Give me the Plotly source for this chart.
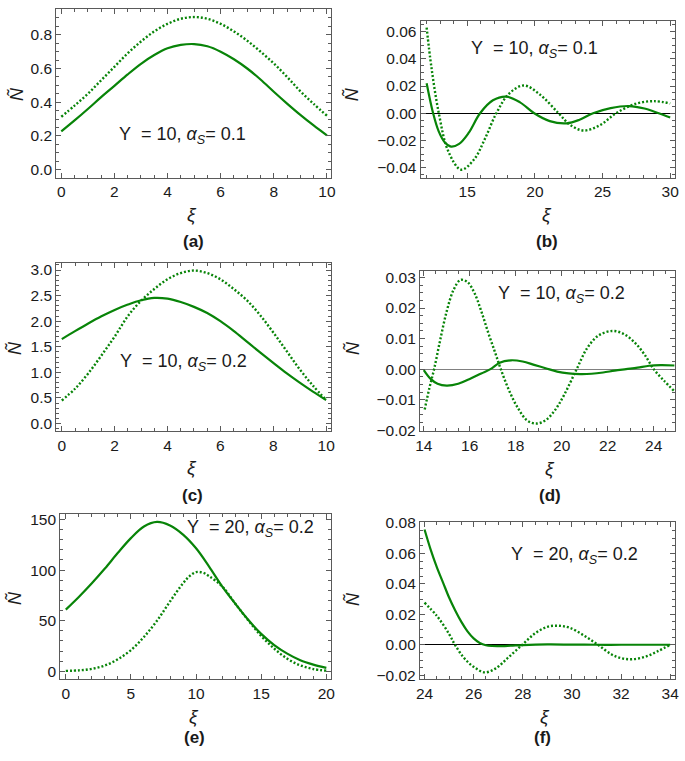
import plotly.graph_objects as go

# ---------------- data ----------------
# (a) Y=10, alpha_S=0.1
a_x = [0, 0.5, 1, 1.5, 2, 2.5, 3, 3.5, 4, 4.5, 5, 5.5, 6, 6.5, 7, 7.5, 8, 8.5, 9, 9.5, 10]
a_solid = [0.227, 0.292, 0.36, 0.43, 0.497, 0.565, 0.628, 0.68, 0.72, 0.74, 0.745, 0.732, 0.70, 0.655, 0.60, 0.535, 0.462, 0.392, 0.325, 0.262, 0.203]
a_dot = [0.314, 0.38, 0.45, 0.53, 0.61, 0.69, 0.76, 0.82, 0.865, 0.895, 0.905, 0.895, 0.865, 0.82, 0.765, 0.70, 0.63, 0.55, 0.465, 0.39, 0.32]

# (b) Y=10, alpha_S=0.1, tail
b_solid_x = [12.0, 12.48, 12.9, 13.35, 13.8, 14.4, 15.1, 15.95, 16.9, 17.9, 18.9, 19.95, 21.1, 22.35, 23.3, 24.3, 25.6, 26.95, 28.1, 29.15, 30.0]
b_solid = [0.0221, 0.0, -0.0135, -0.0215, -0.0245, -0.0225, -0.0145, 0.0, 0.0095, 0.0122, 0.008, 0.0, -0.0058, -0.0074, -0.0048, 0.0, 0.0038, 0.0053, 0.0035, 0.0, -0.0031]
b_dot_x = [12.0, 12.35, 12.9, 13.6, 14.55, 15.5, 16.3, 17.15, 18.1, 19.2, 20.4, 21.75, 22.6, 23.6, 24.8, 26.0, 27.4, 28.8, 30.0]
b_dot = [0.063, 0.034, 0.0, -0.028, -0.0415, -0.034, -0.019, 0.0, 0.0145, 0.0204, 0.0135, 0.0, -0.0085, -0.0127, -0.0088, 0.0, 0.0068, 0.0089, 0.0072]

# (c) Y=10, alpha_S=0.2
c_x = [0, 0.5, 1, 1.5, 2, 2.5, 3, 3.5, 4, 4.5, 5, 5.5, 6, 6.5, 7, 7.5, 8, 8.5, 9, 9.5, 10]
c_solid = [1.65, 1.805, 1.955, 2.095, 2.22, 2.325, 2.41, 2.455, 2.44, 2.375, 2.28, 2.16, 2.0, 1.81, 1.6, 1.39, 1.185, 0.985, 0.8, 0.625, 0.46]
c_dot = [0.45, 0.68, 0.98, 1.33, 1.7, 2.1, 2.4, 2.63, 2.82, 2.94, 2.99, 2.94, 2.82, 2.63, 2.41, 2.12, 1.78, 1.42, 1.06, 0.74, 0.46]

# (d) Y=10, alpha_S=0.2, tail
d_solid_x = [14.0, 14.3, 14.6, 15.0, 15.5, 16.0, 16.5, 16.9, 17.3, 17.8, 18.3, 18.8, 19.3, 19.8, 20.3, 20.8, 21.3, 21.8, 22.3, 22.8, 23.3, 23.8, 24.3, 24.9]
d_solid = [-0.0003, -0.0032, -0.0048, -0.0054, -0.0048, -0.0032, -0.0014, 0.0, 0.0021, 0.0029, 0.0025, 0.0014, 0.0003, -0.0008, -0.0014, -0.0016, -0.0015, -0.0011, -0.0005, 0.0, 0.0005, 0.0011, 0.0013, 0.0012]
d_dot_x = [14.04, 14.25, 14.45, 14.7, 15.0, 15.3, 15.6, 15.9, 16.2, 16.5, 16.8, 17.1, 17.35, 17.7, 18.1, 18.5, 18.9, 19.3, 19.7, 20.1, 20.65, 21.1, 21.6, 22.2, 22.7, 23.2, 23.6, 24.0, 24.45, 24.9]
d_dot = [-0.0132, -0.006, 0.0, 0.009, 0.019, 0.026, 0.0292, 0.0285, 0.025, 0.019, 0.012, 0.0055, 0.0, -0.0068, -0.0128, -0.0168, -0.0178, -0.0167, -0.0135, -0.0085, 0.0, 0.0068, 0.011, 0.0125, 0.0115, 0.0085, 0.0048, 0.0, -0.0038, -0.0072]

# (e) Y=20, alpha_S=0.2
e_solid_x = list(range(0, 21))
e_solid = [61, 73.5, 87, 101.5, 117, 131.5, 143, 147.5, 144, 135, 121.5, 103.5, 84, 67, 51, 37, 26, 17.5, 11, 6.7, 3.5]
e_dot_x = [0, 1, 2, 3, 4, 5, 6, 7, 8, 9, 9.5, 10, 10.5, 11, 12, 13, 14, 15, 16, 17, 18, 19, 20]
e_dot = [0.5, 1.0, 2.5, 5.8, 12, 21, 34, 50, 69, 87, 94, 98, 97.5, 94, 84, 67, 50.5, 35, 22.5, 12.5, 6, 2.3, 0.7]

# (f) Y=20, alpha_S=0.2, tail
f_solid_x = [24.0, 24.25, 24.5, 24.75, 25.0, 25.25, 25.5, 25.75, 26.0, 26.25, 26.5, 26.75, 27.0, 27.5, 28.0, 29.0, 30.0, 31.0, 32.0, 33.0, 34.0]
f_solid = [0.0757, 0.0625, 0.051, 0.041, 0.031, 0.0225, 0.015, 0.0088, 0.0042, 0.0012, -0.0003, -0.0008, -0.0009, -0.0006, -0.0002, 0.0002, 0.0001, 0.0, 0.0, 0.0, 0.0]
f_dot_x = [24.0, 24.5, 25.0, 25.24, 25.6, 26.0, 26.45, 26.9, 27.4, 27.98, 28.5, 29.0, 29.45, 29.9, 30.5, 31.06, 31.6, 32.0, 32.45, 33.0, 33.5, 34.0]
f_dot = [0.0276, 0.019, 0.0071, 0.0, -0.0085, -0.0145, -0.0181, -0.0155, -0.0085, 0.0, 0.0075, 0.0118, 0.0125, 0.0112, 0.006, 0.0, -0.0062, -0.0088, -0.0095, -0.0078, -0.0042, 0.0]

panel_labels = ["(a)", "(b)", "(c)", "(d)", "(e)", "(f)"]
panel_texts = ["Y\u00a0\u00a0= 10, <i>α</i><sub><i>S</i></sub>= 0.1",
               "Y\u00a0\u00a0= 10, <i>α</i><sub><i>S</i></sub>= 0.1",
               "Y\u00a0\u00a0= 10, <i>α</i><sub><i>S</i></sub>= 0.2",
               "Y\u00a0\u00a0= 10, <i>α</i><sub><i>S</i></sub>= 0.2",
               "Y\u00a0\u00a0= 20, <i>α</i><sub><i>S</i></sub>= 0.2",
               "Y\u00a0\u00a0= 20, <i>α</i><sub><i>S</i></sub>= 0.2"]

# ---------------- layout ----------------
W, H = 685, 761
GREEN = "#088408"
FRAME = "#5a5a5a"

# pixel frames: left, right, top, bottom
frames = [(52, 331, 1, 173), (421.7, 680, 13, 173),
          (52, 331, 260, 431.7), (421, 680, 268, 431.7),
          (56, 331, 516, 685), (421, 680, 524.5, 685)]
xranges = [[-0.19, 10.16], [11.55, 30.36], [-0.21, 10.19], [13.83, 24.93], [-0.43, 20.37], [23.81, 34.2]]
yranges = [[-0.047, 0.953], [-0.0473, 0.068], [-0.15, 3.14], [-0.0203, 0.0322], [-8, 155.5], [-0.0228, 0.0805]]
xdt = [2, 5, 2, 2, 5, 2]
xminor = [0.5, 1, 0.5, 0.5, 1, 0.5]
ydt = [0.2, 0.02, 0.5, 0.01, 50, 0.02]
yminor = [0.05, 0.005, 0.1, 0.0025, 10, 0.005]
yfmt = [".1f", ".2f", ".1f", ".2f", "d", ".2f"]
zerolines = [False, True, False, True, False, True]
zerocolors = ["black", "black", "black", "#808080", "black", "black"]

series = [(a_x, a_solid, a_x, a_dot), (b_solid_x, b_solid, b_dot_x, b_dot),
          (c_x, c_solid, c_x, c_dot), (d_solid_x, d_solid, d_dot_x, d_dot),
          (e_solid_x, e_solid, e_dot_x, e_dot), (f_solid_x, f_solid, f_dot_x, f_dot)]

# annotation pixel positions
text_pos = [(180, 130), (537, 42), (181, 362), (565, 292), (249, 531), (578, 558)]
xi_pos = [(190, 211), (550, 211), (190, 469), (553, 470), (192, 723), (548, 723)]
lab_pos = [(191, 238), (550, 238), (190, 497), (553, 497), (192, 744), (545, 744)]
ylab_pos = [(11, 88), (351, 88), (9, 347), (352, 347), (9, 602), (352, 603)]

fig = go.Figure()
layout = dict(width=W, height=H, margin=dict(l=0, r=0, t=0, b=0),
              paper_bgcolor="white", plot_bgcolor="white", showlegend=False,
              font=dict(family="Liberation Sans, Arial, sans-serif", color="#1a1a1a", size=15))
annotations = []

for i in range(6):
    n = "" if i == 0 else str(i + 1)
    xs, ys, xd, yd = series[i]
    fig.add_trace(go.Scatter(x=xs, y=ys, mode="lines", xaxis="x" + n, yaxis="y" + n,
                             line=dict(color=GREEN, width=2.2, shape="spline", smoothing=1.0)))
    fig.add_trace(go.Scatter(x=xd, y=yd, mode="lines", xaxis="x" + n, yaxis="y" + n,
                             line=dict(color=GREEN, width=2.4, dash="2px,2px", shape="spline", smoothing=1.0)))
    l, r, t, b = frames[i]
    common = dict(showline=True, linecolor=FRAME, linewidth=1, mirror="allticks",
                  ticks="inside", ticklen=5, tickcolor=FRAME, tickwidth=1,
                  showgrid=False, ticklabeloverflow="allow",
                  tickfont=dict(size=15.5, color="#1a1a1a"))
    layout["xaxis" + n] = dict(common, domain=[l / W, r / W], range=xranges[i], anchor="y" + n,
                               dtick=xdt[i], tick0=0, zeroline=False,
                               minor=dict(dtick=xminor[i], ticks="inside", ticklen=3, tickcolor=FRAME))
    layout["yaxis" + n] = dict(common, domain=[1 - b / H, 1 - t / H], range=yranges[i], anchor="x" + n,
                               dtick=ydt[i], tick0=0, tickformat=yfmt[i],
                               zeroline=zerolines[i], zerolinecolor=zerocolors[i], zerolinewidth=1.1,
                               minor=dict(dtick=yminor[i], ticks="inside", ticklen=3, tickcolor=FRAME))
    annotations.append(dict(text=panel_texts[i], x=text_pos[i][0] / W, y=1 - text_pos[i][1] / H,
                            xref="paper", yref="paper", showarrow=False, xanchor="center", yanchor="middle",
                            font=dict(size=18, color="#1a1a1a")))
    annotations.append(dict(text="<i>ξ</i>", x=xi_pos[i][0] / W, y=1 - xi_pos[i][1] / H,
                            xref="paper", yref="paper", showarrow=False, xanchor="center", yanchor="middle",
                            font=dict(size=19, color="#1a1a1a")))
    annotations.append(dict(text="<b>" + panel_labels[i] + "</b>", x=lab_pos[i][0] / W, y=1 - lab_pos[i][1] / H,
                            xref="paper", yref="paper", showarrow=False, xanchor="center", yanchor="middle",
                            font=dict(size=17, color="#1a1a1a")))
    annotations.append(dict(text="<i>Ñ</i>", x=ylab_pos[i][0] / W, y=1 - ylab_pos[i][1] / H,
                            xref="paper", yref="paper", showarrow=False, xanchor="center", yanchor="middle",
                            textangle=-90, font=dict(size=18, color="#1a1a1a")))

layout["annotations"] = annotations
fig.update_layout(**layout)
fig.write_html("out.html", config={"displayModeBar": False},
               post_script="document.body.style.margin='0';document.body.style.overflow='hidden';")
